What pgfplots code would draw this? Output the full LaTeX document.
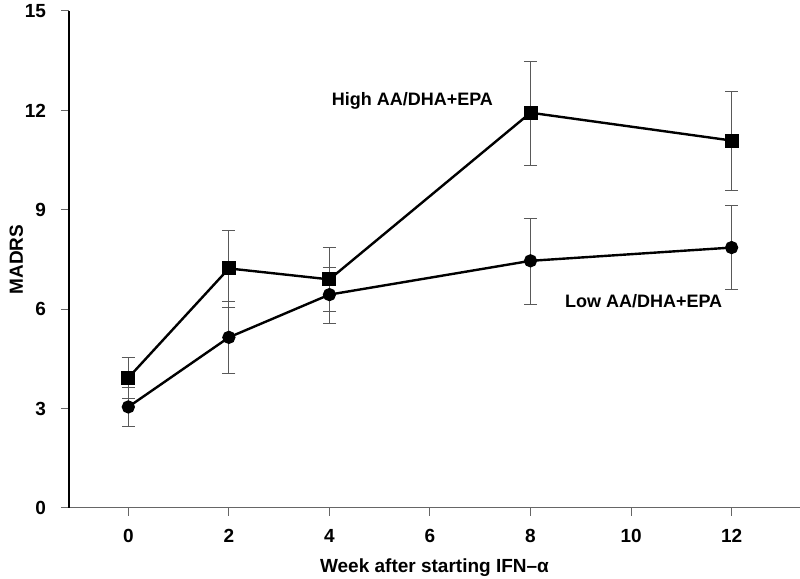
\documentclass[border=0pt]{standalone}
\usepackage{pgfplots}
\pgfplotsset{compat=1.18}
\usepackage{pgfplotstable}
\usepackage{fontspec}
\setmainfont{Liberation Sans}
\pgfplotstableread{
x y ep em
0 3.93 0.61 0.62
2 7.23 1.15 1.17
4 6.90 0.97 0.96
8 11.93 1.56 1.59
12 11.09 1.47 1.52
}\high
\pgfplotstableread{
x y ep em
0 3.05 0.58 0.60
2 5.15 1.07 1.08
4 6.44 0.83 0.87
8 7.46 1.27 1.32
12 7.86 1.28 1.28
}\low
\begin{document}
\begin{tikzpicture}
\useasboundingbox (0,0) rectangle (400pt,289.5pt);
\begin{axis}[
  at={(34.5pt,35.5pt)}, anchor=south west,
  scale only axis,
  width=365.5pt, height=248.5pt,
  xmin=-1.18, xmax=13.36, ymin=0, ymax=15,
  axis x line=bottom, axis y line=left,
  axis line style={-},
  x axis line style={gray!80!black, line width=0.5pt},
  y axis line style={black, line width=0.9pt},
  xtick={0,2,4,6,8,10,12}, ytick={0,3,6,9,12,15},
  tick align=outside, major tick length=4pt,
  tick style={gray!80!black, line width=0.5pt},
  /pgf/number format/assume math mode=true,
  ticklabel style={font=\fontsize{9.5}{10}\selectfont\bfseries},
  xticklabel style={yshift=-3pt},
  yticklabel style={xshift=-4pt},
  label style={font=\fontsize{9.5}{10}\selectfont\bfseries},
  xlabel={Week after starting IFN–α},
  ylabel={MADRS},
  xlabel style={yshift=-1pt},
  ylabel style={yshift=-6pt},
  clip=false,
]
\addplot[black, line width=1.2pt, mark=square*, mark size=2.9pt,
  error bars/.cd, y dir=both, y explicit,
  error bar style={gray!70!black, line width=0.5pt},
  error mark options={rotate=90, gray!70!black, mark size=3.3pt, line width=0.5pt}]
  table[x=x, y=y, y error plus=ep, y error minus=em]{\high};
\addplot[black, line width=1.2pt, mark=*, mark size=2.7pt,
  error bars/.cd, y dir=both, y explicit,
  error bar style={gray!70!black, line width=0.5pt},
  error mark options={rotate=90, gray!70!black, mark size=3.3pt, line width=0.5pt}]
  table[x=x, y=y, y error plus=ep, y error minus=em]{\low};
\node[font=\fontsize{9}{10}\selectfont\bfseries] at (axis cs:5.65,12.28) {High AA/DHA+EPA};
\node[font=\fontsize{9}{10}\selectfont\bfseries] at (axis cs:10.25,6.25) {Low AA/DHA+EPA};
\end{axis}
\end{tikzpicture}
\end{document}
